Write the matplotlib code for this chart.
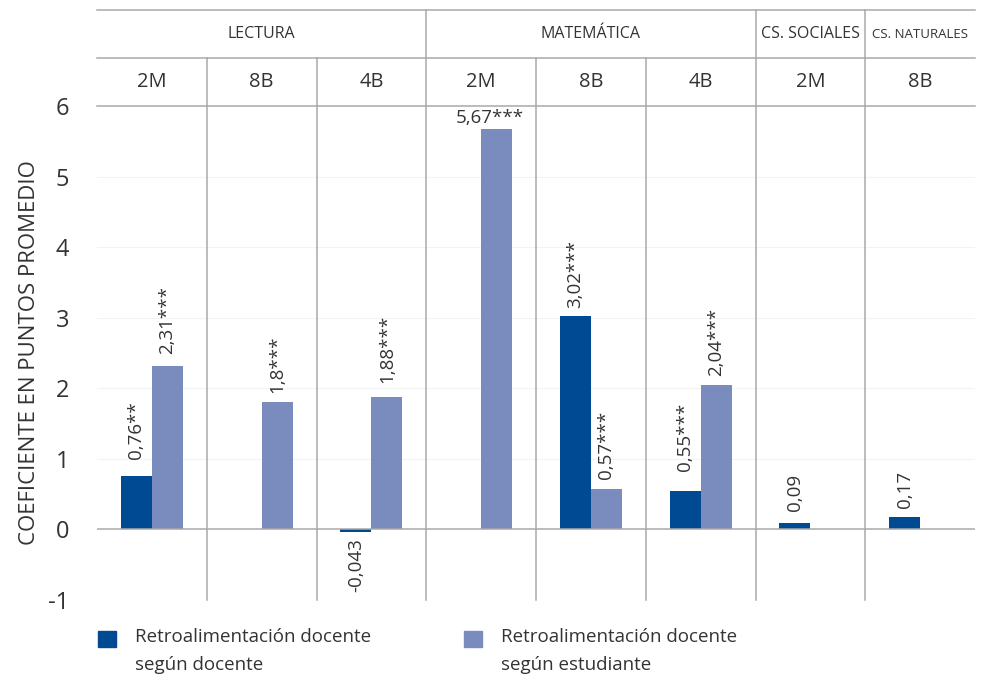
import numpy as np
import matplotlib.pyplot as plt
import matplotlib.transforms as mtransforms
from matplotlib.patches import Rectangle

plt.rcParams['font.family'] = ['Open Sans', 'DejaVu Sans']

# datos
grupos = ['LECTURA', 'MATEMÁTICA', 'CS. SOCIALES', 'CS. NATURALES']
grupo_n = [3, 3, 1, 1]
niveles = ['2M', '8B', '4B', '2M', '8B', '4B', '2M', '8B']
docente = [0.76, np.nan, -0.043, np.nan, 3.02, 0.55, 0.09, 0.17]
estudiante = [2.31, 1.8, 1.88, 5.67, 0.57, 2.04, np.nan, np.nan]
etq_docente = ['0,76**', '', '-0,043', '', '3,02***', '0,55***', '0,09', '0,17']
etq_estudiante = ['2,31***', '1,8***', '1,88***', '5,67***', '0,57***', '2,04***', '', '']
pad_docente = [12, 0, 4, 0, 6, 14, 9, 7]
pad_estudiante = [9, 7, 10, 2, 7, 7, 0, 0]
series = ['Retroalimentación docente\nsegún docente', 'Retroalimentación docente\nsegún estudiante']

c_doc = '#004a93'
c_est = '#7a8bbd'
c_lin = '#a9a9a9'
c_txt = '#333333'

fig = plt.figure(figsize=(9.81, 6.81), dpi=100)
ax = fig.add_axes([97/981, 81/681, 878/981, 494/681])

n = len(niveles)
x = np.arange(n) + 0.5
w = 0.2825
ax.bar(x - w/2, docente, w, color=c_doc, zorder=3)
ax.bar(x + w/2, estudiante, w, color=c_est, zorder=3)

fs_etq = 13.5
for i in range(n):
    if not np.isnan(docente[i]):
        v = docente[i]
        if v >= 0:
            ax.annotate(etq_docente[i], (x[i] - w/2, v), xytext=(0, pad_docente[i]),
                        textcoords='offset points', rotation=90, ha='center', va='bottom',
                        fontsize=fs_etq, color=c_txt)
        else:
            ax.annotate(etq_docente[i], (x[i] - w/2, v), xytext=(0, -pad_docente[i]),
                        textcoords='offset points', rotation=90, ha='center', va='top',
                        fontsize=fs_etq, color=c_txt)
    if not np.isnan(estudiante[i]):
        v = estudiante[i]
        if v > 5:
            # no cabe vertical
            ax.annotate(etq_estudiante[i], (x[i] + w/2 - 0.06, v), xytext=(0, pad_estudiante[i]),
                        textcoords='offset points', ha='center', va='bottom',
                        fontsize=fs_etq, color=c_txt)
        else:
            ax.annotate(etq_estudiante[i], (x[i] + w/2, v), xytext=(0, pad_estudiante[i]),
                        textcoords='offset points', rotation=90, ha='center', va='bottom',
                        fontsize=fs_etq, color=c_txt)

ax.set_xlim(0, n)
ax.set_ylim(-1, 6)
ax.set_yticks(range(-1, 7))
ax.set_yticklabels(['-1', '0', '1', '2', '3', '4', '5', '6'])
ax.tick_params(axis='y', length=0, pad=20, labelsize=17, labelcolor=c_txt)
ax.set_xticks([])
for s in ax.spines.values():
    s.set_visible(False)
for yy in range(1, 6):
    ax.axhline(yy, color='#f3f3f3', lw=0.8, zorder=0)
ax.axhline(0, color=c_lin, lw=1.1, zorder=4)
ax.set_ylabel('COEFICIENTE EN PUNTOS PROMEDIO', fontsize=16, color=c_txt, labelpad=6)

# cabecera
tr = mtransforms.blended_transform_factory(ax.transData, ax.transAxes)
y1, y2, y3 = 1.0, 1.097, 1.194
for yy in (y1, y2, y3):
    ax.plot([0, n], [yy, yy], color=c_lin, lw=1.1, transform=tr, clip_on=False)
bordes = np.cumsum(grupo_n)
for b in range(1, n):
    top = y3 if b in bordes else y2
    ax.plot([b, b], [0, top], color=c_lin, lw=1.1, transform=tr, clip_on=False, zorder=2)
for i, lab in enumerate(niveles):
    ax.text(i + 0.5, (y1 + y2) / 2, lab, transform=tr, ha='center', va='center',
            fontsize=14.5, color=c_txt)
ini = 0
for g, k in zip(grupos, grupo_n):
    fs = 11.5 if g != 'CS. NATURALES' else 9.5
    ax.text(ini + k / 2, (y2 + y3) / 2, g, transform=tr, ha='center', va='center',
            fontsize=fs, color=c_txt)
    ini += k

# leyenda hecha a mano (cuadro alineado con la primera línea)
for j, (lab, col) in enumerate(zip(series, [c_doc, c_est])):
    x0 = (98 + 366 * j) / 981
    fig.add_artist(Rectangle((x0, 34/681), 18/981, 16/681, color=col,
                             transform=fig.transFigure))
    fig.text(x0 + 37/981, 1 - 628/681, lab, ha='left', va='top', fontsize=13.5,
             color=c_txt, linespacing=1.75)

fig.savefig('out.png', dpi=100)
